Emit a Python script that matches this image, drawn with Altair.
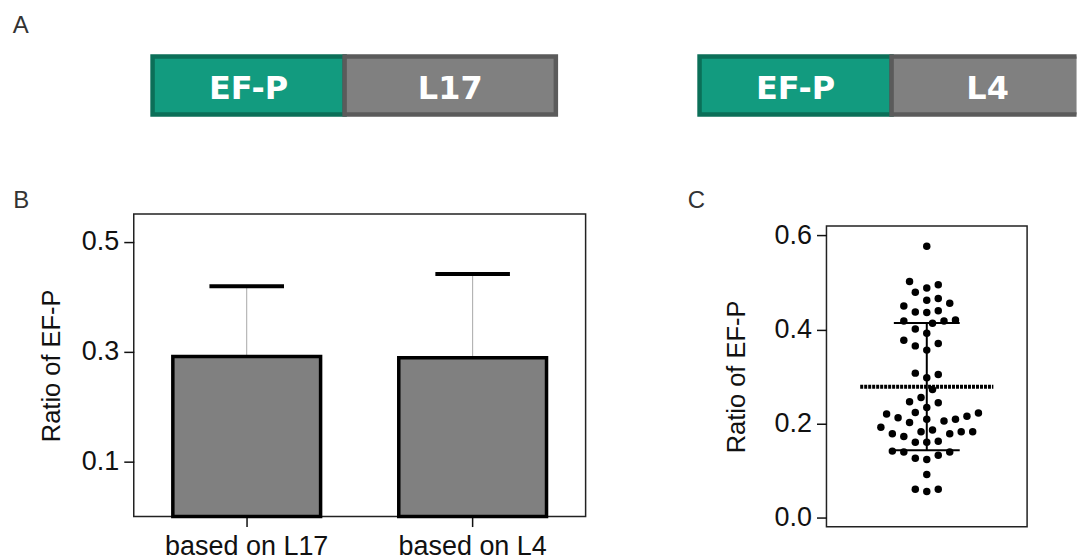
import altair as alt
import numpy as np
import pandas as pd

# ---------------- data ----------------
# Panel A: construct diagrams (relative segment lengths)
construct_1 = ["EF-P", "L17"]
construct_2 = ["EF-P", "L4"]
segment_names = ["EF-P", "L17", "L4"]
segment_lengths = [1.0, 1.1, 1.0]

# Panel B: mean ratio and SD
conditions = ["based on L17", "based on L4"]
ratio_mean = [0.291, 0.289]
ratio_sd = [0.128, 0.152]

# Panel C: individual ratios
ratios = [
    0.577, 0.502, 0.495, 0.488, 0.479, 0.466, 0.462, 0.456, 0.450, 0.440,
    0.437, 0.436, 0.420, 0.418, 0.418, 0.413, 0.401, 0.392, 0.377, 0.370,
    0.365, 0.356, 0.307, 0.304, 0.297, 0.272, 0.255, 0.246, 0.244, 0.234,
    0.223, 0.222, 0.220, 0.215, 0.212, 0.209, 0.209, 0.205, 0.202, 0.192,
    0.186, 0.182, 0.182, 0.182, 0.178, 0.178, 0.172, 0.162, 0.160, 0.160,
    0.141, 0.139, 0.139, 0.132, 0.126, 0.123, 0.091, 0.060, 0.060, 0.055,
]

FONT = "Liberation Sans"
INK = "#111111"
LBL = 27
TTL = 25.5

# ---------------- helpers ----------------
def spacer(w, h, letters=()):
    base = alt.Chart(pd.DataFrame({"t": [0]})).mark_rect(opacity=0).encode(
        x=alt.value(0), x2=alt.value(w), y=alt.value(0), y2=alt.value(h)
    )
    layers = [base]
    for txt, px, py in letters:
        layers.append(
            alt.Chart(pd.DataFrame({"t": [txt]}))
            .mark_text(align="left", baseline="alphabetic", font=FONT,
                       fontSize=24, color="#333333")
            .encode(x=alt.value(px), y=alt.value(py), text="t:N")
        )
    ch = alt.layer(*layers) if len(layers) > 1 else base
    return ch.properties(width=w, height=h)


# ---------------- panel A ----------------
PX_PER_LEN = 192.4
A_H = 66.3
A_MARGIN = 4.0 / 58.3


def construct_chart(parts, width):
    lens = [segment_lengths[segment_names.index(p)] for p in parts]
    ends = np.cumsum(lens)
    starts = ends - np.array(lens)
    df = pd.DataFrame({"part": parts, "start": starts, "end": ends,
                       "mid": (starts + ends) / 2})
    xmax = -0.02 + width / PX_PER_LEN
    xs = alt.Scale(domain=[-0.02, xmax], nice=False, zero=False)
    ys = alt.Scale(domain=[-A_MARGIN, 1 + A_MARGIN], nice=False, zero=False)
    fill = alt.Color("part:N", legend=None,
                     scale=alt.Scale(domain=segment_names,
                                     range=["#129b7f", "#808080", "#808080"]))
    stroke = alt.Stroke("part:N", legend=None,
                        scale=alt.Scale(domain=segment_names,
                                        range=["#0b6f58", "#5b5b5b", "#5b5b5b"]))
    boxes = alt.Chart(df).mark_rect(strokeWidth=4.5, clip=True).encode(
        x=alt.X("start:Q", scale=xs, axis=None),
        x2="end:Q",
        y=alt.YDatum(0, scale=ys, axis=None),
        y2=alt.Y2Datum(1),
        color=fill,
        stroke=stroke,
    )
    labels = alt.Chart(df).mark_text(font="DejaVu Sans", fontWeight="bold",
                                     fontSize=32, color="white", dy=4).encode(
        x=alt.X("mid:Q", scale=xs, axis=None),
        y=alt.YDatum(0.5, scale=ys, axis=None),
        text="part:N",
    )
    return alt.layer(boxes, labels).properties(width=width, height=A_H)


A1_W = 2.14 * PX_PER_LEN
A2_W = 1077 - 695.45
panel_a1 = construct_chart(construct_1, A1_W)
panel_a2 = construct_chart(construct_2, A2_W)

# ---------------- panel B ----------------
B_W, B_H = 452.7, 303.0
dfB = pd.DataFrame({"cond": conditions, "mean": ratio_mean, "sd": ratio_sd})

b_x = alt.X("cond:N", sort=conditions,
            scale=alt.Scale(paddingInner=0.346, paddingOuter=0.173),
            axis=alt.Axis(title=None, labelAngle=0, domain=False, tickSize=10,
                          tickColor=INK, tickWidth=1.5, labelFont=FONT,
                          labelFontSize=LBL, labelColor=INK, labelPadding=7))
b_scale = alt.Scale(domain=[0, 0.55], nice=False, zero=True)
b_axis = alt.Axis(values=[0.1, 0.3, 0.5], format=".1f", title="Ratio of EF-P",
                  domain=False, grid=False, tickSize=10, tickColor=INK,
                  tickWidth=1.5, labelFont=FONT, labelFontSize=LBL,
                  labelColor=INK, labelPadding=5, titleFont=FONT,
                  titleFontSize=TTL, titleFontWeight="normal", titleColor=INK,
                  titlePadding=16.5)


def b_y(field):
    return alt.Y(field, type="quantitative", scale=b_scale, axis=b_axis)


baseB = alt.Chart(dfB).transform_calculate(upper="datum.mean + datum.sd")
err_line = baseB.mark_rule(color="#a8a8a8", strokeWidth=1).encode(
    x=b_x, y=b_y("mean"), y2="upper:Q")
bars = baseB.mark_bar(fill="#808080", stroke="black", strokeWidth=3.5).encode(
    x=b_x, y=b_y("mean"))
caps = baseB.mark_tick(color="black", thickness=4, size=74.7, opacity=1).encode(
    x=b_x, y=b_y("upper"))
panel_b = alt.layer(err_line, bars, caps).properties(
    width=B_W, height=B_H,
    view=alt.ViewBackground(stroke="#222222", strokeWidth=1.5))

# ---------------- panel C ----------------
C_W = 201.0
c_dom = [-0.02, 0.62]
C_H = 301.2
px_per_unit = C_H / (c_dom[1] - c_dom[0])

# beeswarm layout computed from the values
vals = np.array(ratios)
order = np.argsort(vals, kind="stable")
D, STEP = 11.2, 5.75
placed = []
xs_swarm = np.zeros(len(vals))
for n, i in enumerate(order):
    yp = vals[i] * px_per_unit
    cands = [0]
    for k in range(1, 30):
        cands += [k, -k] if n % 2 == 0 else [-k, k]
    for k in cands:
        xp = k * STEP
        if all((xp - a) ** 2 + (yp - b) ** 2 >= D * D for a, b in placed):
            break
    placed.append((xp, yp))
    xs_swarm[i] = xp

dfC = pd.DataFrame({"v": vals, "xs": xs_swarm})
c_xscale = alt.Scale(domain=[-C_W / 2, C_W / 2], nice=False, zero=False)
c_scale = alt.Scale(domain=c_dom, nice=False, zero=False)
c_axis = alt.Axis(values=[0.0, 0.2, 0.4, 0.6], format=".1f", title="Ratio of EF-P",
                  domain=False, grid=False, tickSize=10, tickColor=INK,
                  tickWidth=1.5, labelFont=FONT, labelFontSize=LBL,
                  labelColor=INK, labelPadding=5, titleFont=FONT,
                  titleFontSize=TTL, titleFontWeight="normal", titleColor=INK,
                  titlePadding=25)


def c_y(field):
    return alt.Y(field, type="quantitative", scale=c_scale, axis=c_axis)


dots = alt.Chart(dfC).mark_circle(size=56, color="black", opacity=1).encode(
    x=alt.X("xs:Q", scale=c_xscale, axis=None), y=c_y("v"))
summary = alt.Chart(dfC).transform_aggregate(
    m="mean(v)", s="stdev(v)").transform_calculate(
    lo="datum.m - datum.s", hi="datum.m + datum.s")
sd_line = summary.mark_rule(color="black", strokeWidth=2).encode(
    x=alt.datum(0), y=c_y("lo"), y2="hi:Q")
sd_hi = summary.mark_rule(color="black", strokeWidth=2).encode(
    x=alt.datum(-33), x2=alt.datum(33), y=c_y("hi"))
sd_lo = summary.mark_rule(color="black", strokeWidth=2).encode(
    x=alt.datum(-33), x2=alt.datum(33), y=c_y("lo"))
mean_line = summary.mark_rule(color="black", strokeWidth=4,
                              strokeDash=[3, 1]).encode(
    x=alt.datum(-66.7), x2=alt.datum(66.7), y=c_y("m"))
panel_c = alt.layer(dots, sd_line, sd_hi, sd_lo, mean_line).properties(
    width=C_W, height=C_H,
    view=alt.ViewBackground(stroke="#222222", strokeWidth=1.5))

# ---------------- layout ----------------
row_a = alt.hconcat(spacer(148.45, A_H), panel_a1,
                    spacer(695.45 - 148.45 - A1_W, A_H), panel_a2,
                    spacing=0, bounds="flush")
col_c = alt.vconcat(spacer(C_W, 11.7), panel_c, spacing=0, bounds="flush")
row_b = alt.hconcat(spacer(133.3, B_H), panel_b,
                    spacer(826.7 - 133.3 - B_W, B_H), col_c,
                    spacing=0, bounds="flush")

chart = alt.vconcat(
    spacer(1077, 51.5, letters=[("A", 12.7, 32.3)]),
    row_a,
    spacer(1077, 92.0, letters=[("B", 13.3, 88.9), ("C", 689, 88.9)]),
    row_b,
    spacing=0, bounds="full",
).properties(padding=0, background="white").configure_view(stroke=None)

chart.save("out.html", embed_options={"renderer": "svg", "actions": False})
